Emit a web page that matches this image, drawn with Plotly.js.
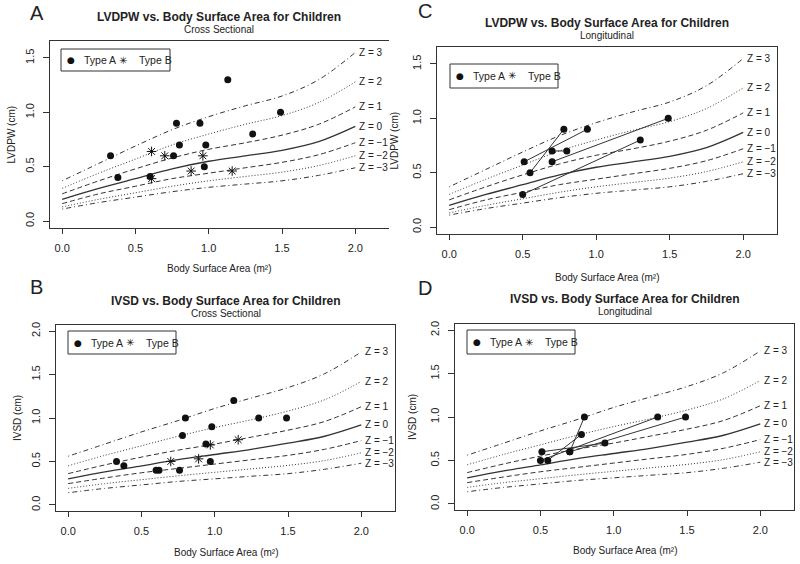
<!DOCTYPE html>
<html>
<head>
<meta charset="utf-8">
<script src="https://cdn.plot.ly/plotly-3.0.1.min.js"></script>
<style>
  html, body { margin: 0; padding: 0; background: #fff; }
  #chart { width: 800px; height: 564px; }
</style>
</head>
<body>
<div id="chart"></div>
<script>
// grid of body surface area (m²) the reference curves are read at
const bsaGrid = [0, 0.25, 0.5, 0.75, 1.0, 1.25, 1.5, 1.75, 2.0];

const zLevels = [3, 2, 1, 0, -1, -2, -3];
const zLabels = ['Z = 3', 'Z = 2', 'Z = 1', 'Z = 0', 'Z = \u22121', 'Z = \u22122', 'Z = \u22123'];

// LVDPW reference curves (cm)
const lvdpwZ3  = [0.37, 0.53, 0.69, 0.84, 0.96, 1.06, 1.15, 1.30, 1.55];
const lvdpwZ2  = [0.30, 0.44, 0.57, 0.70, 0.80, 0.89, 0.97, 1.09, 1.28];
const lvdpwZ1  = [0.25, 0.37, 0.48, 0.58, 0.66, 0.72, 0.79, 0.89, 1.05];
const lvdpwZ0  = [0.20, 0.30, 0.39, 0.48, 0.55, 0.60, 0.65, 0.73, 0.87];
const lvdpwZm1 = [0.16, 0.25, 0.32, 0.39, 0.44, 0.49, 0.54, 0.61, 0.72];
const lvdpwZm2 = [0.13, 0.20, 0.26, 0.32, 0.37, 0.41, 0.45, 0.51, 0.60];
const lvdpwZm3 = [0.11, 0.17, 0.22, 0.27, 0.31, 0.34, 0.37, 0.42, 0.49];

// IVSD reference curves (cm)
const ivsdZ3  = [0.56, 0.70, 0.84, 0.97, 1.11, 1.23, 1.35, 1.51, 1.76];
const ivsdZ2  = [0.45, 0.57, 0.68, 0.79, 0.89, 0.98, 1.08, 1.21, 1.42];
const ivsdZ1  = [0.36, 0.46, 0.55, 0.63, 0.70, 0.78, 0.86, 0.96, 1.13];
const ivsdZ0  = [0.30, 0.38, 0.45, 0.52, 0.58, 0.64, 0.71, 0.79, 0.92];
const ivsdZm1 = [0.245, 0.31, 0.37, 0.42, 0.47, 0.52, 0.57, 0.64, 0.74];
const ivsdZm2 = [0.19, 0.245, 0.29, 0.335, 0.375, 0.415, 0.455, 0.51, 0.60];
const ivsdZm3 = [0.14, 0.19, 0.23, 0.27, 0.30, 0.33, 0.36, 0.41, 0.48];

// cross sectional LVDPW
const crossLvdpwA_x = [0.33, 0.38, 0.60, 0.76, 0.78, 0.80, 0.94, 0.97, 0.98, 1.13, 1.30, 1.49];
const crossLvdpwA_y = [0.60, 0.40, 0.41, 0.60, 0.90, 0.70, 0.90, 0.50, 0.70, 1.30, 0.80, 1.00];
const crossLvdpwB_x = [0.61, 0.61, 0.70, 0.88, 0.96, 1.16];
const crossLvdpwB_y = [0.64, 0.39, 0.60, 0.46, 0.60, 0.46];

// cross sectional IVSD
const crossIvsdA_x = [0.33, 0.38, 0.60, 0.62, 0.76, 0.78, 0.80, 0.94, 0.97, 0.98, 1.13, 1.30, 1.49];
const crossIvsdA_y = [0.50, 0.45, 0.40, 0.40, 0.40, 0.80, 1.00, 0.70, 0.50, 0.90, 1.20, 1.00, 1.00];
const crossIvsdB_x = [0.70, 0.89, 0.97, 1.16];
const crossIvsdB_y = [0.50, 0.53, 0.69, 0.75];

// longitudinal LVDPW: first and second visit per child
const longLvdpwX0 = [0.51, 0.55, 0.70, 0.70, 0.50];
const longLvdpwY0 = [0.60, 0.50, 0.70, 0.60, 0.30];
const longLvdpwX1 = [0.94, 0.78, 0.80, 1.49, 1.30];
const longLvdpwY1 = [0.90, 0.90, 0.70, 1.00, 0.80];

// longitudinal IVSD
const longIvsdX0 = [0.50, 0.70, 0.55, 0.70, 0.51];
const longIvsdY0 = [0.50, 0.60, 0.50, 0.60, 0.60];
const longIvsdX1 = [1.30, 1.49, 0.78, 0.80, 0.94];
const longIvsdY1 = [1.00, 1.00, 0.80, 1.00, 0.70];

const W = 800, H = 564;
const px = v => v / W;
const py = v => 1 - v / H;
const FONT = 'Liberation Sans, Arial, sans-serif';
const INK = '#222';

function dashFor(z) {
    const a = Math.abs(z);
    if (a === 3) return '1px,3px,5px,3px';
    if (a === 2) return '1px,2px';
    if (a === 1) return '5px,3px';
    return 'solid';
}

function zCurves(curves, xa, ya) {
    return curves.map((vals, i) => ({
        x: bsaGrid, y: vals, xaxis: xa, yaxis: ya,
        type: 'scatter', mode: 'lines', hoverinfo: 'skip',
        line: {color: '#333', width: zLevels[i] === 0 ? 1.3 : 1, dash: dashFor(zLevels[i]), shape: 'spline'}
    }));
}

function dots(xs, ys, xa, ya) {
    return {x: xs, y: ys, xaxis: xa, yaxis: ya, type: 'scatter', mode: 'markers',
        marker: {symbol: 'circle', size: 7, color: '#111'}};
}

function stars(xs, ys, xa, ya) {
    return {x: xs, y: ys, xaxis: xa, yaxis: ya, type: 'scatter', mode: 'markers',
        marker: {symbol: 'asterisk-open', size: 8, color: '#111', line: {color: '#111', width: 1}}};
}

function pairs(x0, y0, x1, y1, xa, ya) {
    const xs = [], ys = [];
    x0.forEach((_, i) => {
        xs.push(x0[i], x1[i], null);
        ys.push(y0[i], y1[i], null);
    });
    return {x: xs, y: ys, xaxis: xa, yaxis: ya, type: 'scatter', mode: 'lines+markers',
        line: {color: '#333', width: 1},
        marker: {symbol: 'circle', size: 7, color: '#111'}};
}

const lvdpwCurves = [lvdpwZ3, lvdpwZ2, lvdpwZ1, lvdpwZ0, lvdpwZm1, lvdpwZm2, lvdpwZm3];
const ivsdCurves = [ivsdZ3, ivsdZ2, ivsdZ1, ivsdZ0, ivsdZm1, ivsdZm2, ivsdZm3];

const data = [
    ...zCurves(lvdpwCurves, 'x', 'y'),
    dots(crossLvdpwA_x, crossLvdpwA_y, 'x', 'y'),
    stars(crossLvdpwB_x, crossLvdpwB_y, 'x', 'y'),
    ...zCurves(lvdpwCurves, 'x2', 'y2'),
    pairs(longLvdpwX0, longLvdpwY0, longLvdpwX1, longLvdpwY1, 'x2', 'y2'),
    ...zCurves(ivsdCurves, 'x3', 'y3'),
    dots(crossIvsdA_x, crossIvsdA_y, 'x3', 'y3'),
    stars(crossIvsdB_x, crossIvsdB_y, 'x3', 'y3'),
    ...zCurves(ivsdCurves, 'x4', 'y4'),
    pairs(longIvsdX0, longIvsdY0, longIvsdX1, longIvsdY1, 'x4', 'y4')
];

// panel boxes in pixels: left, right, top, bottom
const panels = [
    {id: '',  letter: 'A', box: [50, 389, 41, 228],  yr: [-0.064, 1.656], ticks: [0, 0.5, 1, 1.5],
     title: 'LVDPW vs. Body Surface Area for Children', sub: 'Cross Sectional', ylab: 'LVDPW (cm)',
     titleY: 17, xlabY: 268, ylabX: 11, letterXY: [37, 13], legXY: [61, 49, 109, 22], rightLine: false, curves: lvdpwCurves},
    {id: '2', letter: 'C', box: [437, 777, 47, 234], yr: [-0.064, 1.656], ticks: [0, 0.5, 1, 1.5],
     title: 'LVDPW vs. Body Surface Area for Children', sub: 'Longitudinal', ylab: 'LVDPW (cm)',
     titleY: 23, xlabY: 277, ylabX: 394, letterXY: [425, 11], legXY: [450, 64, 108, 24], rightLine: true, curves: lvdpwCurves},
    {id: '3', letter: 'B', box: [56, 395, 325, 511], yr: [-0.07, 2.07], ticks: [0, 0.5, 1, 1.5, 2],
     title: 'IVSD vs. Body Surface Area for Children', sub: 'Cross Sectional', ylab: 'IVSD (cm)',
     titleY: 301, xlabY: 552, ylabX: 17, letterXY: [36, 287], legXY: [68, 331, 108, 23], rightLine: true, curves: ivsdCurves},
    {id: '4', letter: 'D', box: [455, 794, 324, 510], yr: [-0.07, 2.07], ticks: [0, 0.5, 1, 1.5, 2],
     title: 'IVSD vs. Body Surface Area for Children', sub: 'Longitudinal', ylab: 'IVSD (cm)',
     titleY: 299, xlabY: 550, ylabX: 412, letterXY: [425, 288], legXY: [467, 330, 108, 24], rightLine: true, curves: ivsdCurves}
];

const layout = {
    width: W, height: H,
    margin: {l: 0, r: 0, t: 0, b: 0},
    paper_bgcolor: '#fff', plot_bgcolor: '#fff',
    showlegend: false,
    font: {family: FONT, color: INK},
    annotations: [], shapes: []
};

const txt = (text, x, y, size, extra) => Object.assign({
    text, x: px(x), y: py(y), xref: 'paper', yref: 'paper', showarrow: false,
    xanchor: 'center', yanchor: 'middle', font: {family: FONT, size, color: INK}
}, extra || {});

panels.forEach(p => {
    const [l, r, t, b] = p.box;
    const xName = 'xaxis' + p.id, yName = 'yaxis' + p.id;
    const xa = 'x' + p.id, ya = 'y' + p.id;
    layout[xName] = {
        domain: [px(l), px(r)], anchor: ya, range: [-0.083, 2.23],
        tickvals: [0, 0.5, 1, 1.5, 2], tickformat: '.1f',
        ticks: 'outside', ticklen: 5, tickcolor: '#333', ticklabelstandoff: 5,
        showline: true, linecolor: '#333', linewidth: 1, mirror: true,
        showgrid: false, zeroline: false, fixedrange: true,
        tickfont: {family: FONT, size: 11, color: INK}
    };
    layout[yName] = {
        domain: [py(b), py(t)], anchor: xa, range: p.yr,
        tickvals: p.ticks, tickformat: '.1f', tickangle: -90,
        ticks: 'outside', ticklen: 6, tickcolor: '#333', ticklabelstandoff: 5,
        showline: true, linecolor: '#333', linewidth: 1, mirror: p.rightLine,
        showgrid: false, zeroline: false, fixedrange: true,
        tickfont: {family: FONT, size: 11, color: INK}
    };

    const cx = (l + r) / 2;
    layout.annotations.push(
        txt('<b>' + p.title + '</b>', cx, p.titleY, 12),
        txt(p.sub, cx, p.titleY + 12.5, 10),
        txt('Body Surface Area (m\u00b2)', cx, p.xlabY, 10),
        txt(p.ylab, p.ylabX, (t + b) / 2, 10, {textangle: -90}),
        txt(p.letter, p.letterXY[0], p.letterXY[1], 20)
    );

    // Z labels at the right end of each curve
    p.curves.forEach((vals, i) => {
        layout.annotations.push({
            text: zLabels[i], x: bsaGrid[bsaGrid.length - 1] + 0.02, y: vals[vals.length - 1],
            xref: xa, yref: ya, showarrow: false, xanchor: 'left', yanchor: 'middle',
            font: {family: FONT, size: 10, color: INK}, borderpad: 0
        });
    });

    // legend box
    const [lx, ly, lw, lh] = p.legXY;
    layout.shapes.push({
        type: 'rect', xref: 'paper', yref: 'paper',
        x0: px(lx), x1: px(lx + lw), y0: py(ly + lh), y1: py(ly),
        line: {color: '#333', width: 1}, fillcolor: 'rgba(0,0,0,0)'
    });
    const my = ly + lh / 2;
    layout.annotations.push(
        txt('\u25CF', lx + 10, my, 9, {font: {family: 'DejaVu Sans', size: 9, color: '#111'}}),
        txt('Type A', lx + 21, my, 10.5, {xanchor: 'left'}),
        txt('\u2733', lx + 62, my, 10, {font: {family: 'DejaVu Sans', size: 10, color: '#111'}}),
        txt('Type B', lx + 76, my, 10.5, {xanchor: 'left'})
    );
});

Plotly.newPlot('chart', data, layout, {displayModeBar: false, staticPlot: true});
</script>
</body>
</html>
